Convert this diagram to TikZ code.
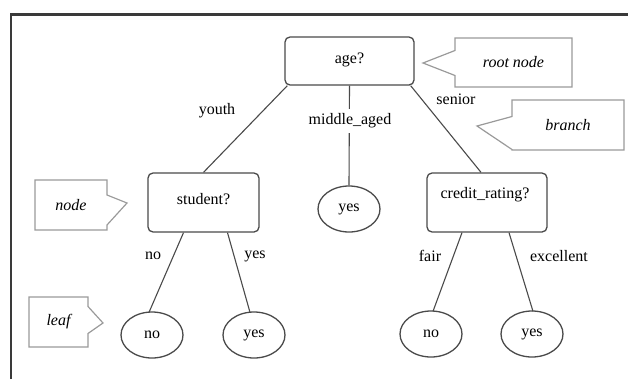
\documentclass[tikz,border=0pt]{standalone}
\usepackage{fontspec}
\setmainfont{Liberation Serif}
\usetikzlibrary{shapes.geometric,shapes.callouts,calc}

\definecolor{inkline}{HTML}{4A4A4A}
\definecolor{noteline}{HTML}{9A9A9A}
\definecolor{frameline}{HTML}{3A3A3A}

% drawn at twice the size: one unit is 2pt
\tikzset{
  testbox/.style={draw=inkline, line width=2.6pt, rounded corners=10pt, inner sep=0pt},
  leafnode/.style={draw=inkline, line width=2.6pt, ellipse, minimum width=124pt, minimum height=92pt, inner sep=0pt},
  branchline/.style={draw=inkline, line width=2.2pt},
  edgelabel/.style={inner sep=4pt},
  note/.style={rectangle callout, draw=noteline, line width=2.4pt, inner sep=0pt},
}

\begin{document}
\begin{tikzpicture}[x=2pt, y=-2pt, font={\fontsize{32}{36}\selectfont}]
  \useasboundingbox (0,0) rectangle (628,379);

  % frame (left and top edges)
  \draw[frameline, line width=5pt] (11,379) -- (11,14.5) -- (628,14.5);

  % decision nodes
  \node[testbox, minimum width=258pt, minimum height=96pt] (age) at (349.5,61) {};
  \node (agetext) at (349.5,60) {age?};
  \node[testbox, minimum width=222pt, minimum height=118pt] (student) at (203.5,202.5) {};
  \node (studenttext) at (203.5,199) {student?};
  \node[testbox, minimum width=240pt, minimum height=118pt] (credit) at (487,202.5) {};
  \node (credittext) at (485,195) {credit\_rating?};

  % leaves
  \node[leafnode] (midyes) at (349,209) {yes};
  \node[leafnode] (sno) at (152,335) {no};
  \node[leafnode] (syes) at (254,335) {yes};
  \node[leafnode] (cno) at (431,334) {no};
  \node[leafnode] (cyes) at (532,334) {yes};

  % branches
  \draw[branchline] ($(age.south west)+(3,0)$) -- (student.north);
  \draw[branchline] ($(age.south east)+(-4,0)$) -- ($(credit.north)+(-6,0)$);
  \draw[branchline] (age.south) -- (midyes.north);
  \draw[branchline] ($(student.south)+(-20,0)$) -- ($(sno.north)+(-3,1)$);
  \draw[branchline] ($(student.south)+(24,0)$) -- ($(syes.north)+(-4,1)$);
  \draw[branchline] ($(credit.south)+(-25,0)$) -- ($(cno.north)+(2,1)$);
  \draw[branchline] ($(credit.south)+(22,0)$) -- ($(cyes.north)+(1,1)$);

  % branch labels
  \node[edgelabel] (lyouth) at (217,111) {youth};
  \node[edgelabel] (lsenior) at (456,99) {senior};
  \node[edgelabel, fill=white, inner ysep=10pt] (lmiddle) at (350,121) {middle\_aged};
  \node[edgelabel] (lsno) at (153,256) {no};
  \node[edgelabel] (lsyes) at (255,256) {yes};
  \node[edgelabel] (lfair) at (430,256) {fair};
  \node[edgelabel] (lexc) at (559,256) {excellent};

  % annotation callouts
  \coordinate (roottip) at (423,63);
  \coordinate (branchtip) at (477,126);
  \coordinate (nodetip) at (127,203);
  \coordinate (leaftip) at (103,323);
  \node[note, minimum width=234pt, minimum height=98pt, callout pointer width=50pt,
        callout absolute pointer={(roottip)}] (rootnote) at (513.5,62.5) {\itshape root node};
  \node[note, minimum width=224pt, minimum height=100pt, callout pointer width=66pt,
        callout absolute pointer={(branchtip)}] (branchnote) at (568,125) {\itshape branch};
  \node[note, minimum width=144pt, minimum height=100pt, callout pointer width=60pt,
        callout absolute pointer={(nodetip)}] (nodenote) at (71,205) {\itshape node};
  \node[note, minimum width=118pt, minimum height=100pt, callout pointer width=54pt,
        callout absolute pointer={(leaftip)}] (leafnote) at (58.5,322) {\itshape leaf};
\end{tikzpicture}
\end{document}
